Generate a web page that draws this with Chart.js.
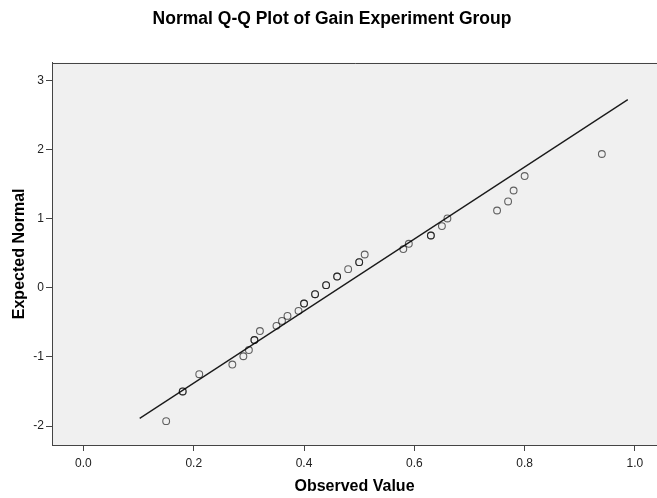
<!DOCTYPE html>
<html>
<head>
<meta charset="utf-8">
<script src="https://cdn.jsdelivr.net/npm/chart.js@4.4.1/dist/chart.umd.min.js"></script>
<style>
  html, body { margin: 0; padding: 0; background: #ffffff; }
  #wrap { width: 657px; height: 498px; }
</style>
</head>
<body>
<div id="wrap"><canvas id="c" width="657" height="498"></canvas></div>
<script>
// Observed values (ties listed once per case)
const observed = [0.15, 0.18, 0.18, 0.21, 0.27, 0.29, 0.30, 0.31, 0.31, 0.32, 0.35, 0.36, 0.37, 0.39, 0.40, 0.40, 0.42, 0.42, 0.44, 0.44, 0.46, 0.46, 0.48, 0.50, 0.50, 0.51, 0.58, 0.59, 0.63, 0.63, 0.65, 0.66, 0.75, 0.77, 0.78, 0.80, 0.94];
// Expected normal values
const expected = [-1.93, -1.50, -1.50, -1.25, -1.11, -0.99, -0.90, -0.755, -0.755, -0.625, -0.55, -0.478, -0.406, -0.333, -0.227, -0.227, -0.092, -0.092, 0.039, 0.039, 0.164, 0.164, 0.271, 0.372, 0.372, 0.483, 0.561, 0.638, 0.758, 0.758, 0.894, 1.005, 1.120, 1.251, 1.410, 1.619, 1.938];
// Reference line end points
const lineX = [0.102, 0.987];
const lineY = [-1.889, 2.725];
// Tick labels
const xTicks = [0.0, 0.2, 0.4, 0.6, 0.8, 1.0];
const yTicks = [-2, -1, 0, 1, 2, 3];

const titleText = 'Normal Q-Q Plot of Gain Experiment Group';
const xTitle = 'Observed Value';
const yTitle = 'Expected Normal';

Chart.defaults.font.family = "'Liberation Sans', Arial, sans-serif";

const pointData = observed.map((v, i) => ({ x: v, y: expected[i] }));
const lineData = lineX.map((v, i) => ({ x: v, y: lineY[i] }));

const plotBg = {
  id: 'plotBg',
  beforeDraw(chart) {
    const { ctx, chartArea: a } = chart;
    ctx.save();
    ctx.fillStyle = '#f0f0f0';
    ctx.fillRect(a.left, a.top, a.right - a.left, a.bottom - a.top);
    ctx.restore();
  },
  afterDatasetsDraw(chart) {
    const { ctx, chartArea: a } = chart;
    ctx.save();
    ctx.strokeStyle = '#444444';
    ctx.lineWidth = 1;
    ctx.beginPath();
    ctx.moveTo(Math.round(a.left) + 0.5, Math.round(a.bottom) + 0.5);
    ctx.lineTo(Math.round(a.left) + 0.5, Math.round(a.top) + 0.5);
    ctx.lineTo(a.right + 2, Math.round(a.top) + 0.5);
    ctx.stroke();
    ctx.restore();
  }
};

new Chart(document.getElementById('c'), {
  type: 'scatter',
  data: {
    datasets: [
      {
        type: 'line',
        data: lineData,
        borderColor: '#1a1a1a',
        borderWidth: 1.3,
        pointRadius: 0,
        fill: false,
        order: 2
      },
      {
        data: pointData,
        pointStyle: 'circle',
        pointRadius: 3.4,
        pointBorderWidth: 1.1,
        pointBorderColor: 'rgba(0,0,0,0.6)',
        pointBackgroundColor: 'rgba(0,0,0,0)',
        showLine: false,
        order: 1
      }
    ]
  },
  options: {
    responsive: false,
    animation: false,
    events: [],
    layout: { autoPadding: false, padding: { left: 7, right: 0, top: 0, bottom: 0 } },
    plugins: {
      legend: { display: false },
      tooltip: { enabled: false },
      title: {
        display: true,
        text: titleText,
        color: '#000000',
        font: { size: 17.5, weight: 'bold' },
        padding: { top: 8.3, bottom: 33.4 }
      }
    },
    scales: {
      x: {
        type: 'linear',
        position: 'bottom',
        min: -0.057,
        max: 1.04,
        afterBuildTicks: s => { s.ticks = xTicks.map(v => ({ value: v })); },
        afterFit: s => { s.height = 53; },
        ticks: {
          callback: v => Number(v).toFixed(1),
          color: '#222222',
          font: { size: 12 },
          padding: 5,
          maxRotation: 0,
          autoSkip: false
        },
        grid: { drawOnChartArea: false, drawTicks: true, tickLength: 6, tickColor: '#444444', tickWidth: 1 },
        border: { display: true, color: '#444444', width: 1 },
        title: {
          display: true,
          text: xTitle,
          color: '#000000',
          font: { size: 16, weight: 'bold' },
          padding: { top: 0, bottom: 2 }
        }
      },
      y: {
        type: 'linear',
        position: 'left',
        min: -2.275,
        max: 3.26,
        afterBuildTicks: s => { s.ticks = yTicks.map(v => ({ value: v })); },
        afterFit: s => { s.width = 45; },
        ticks: {
          callback: v => String(v),
          color: '#222222',
          font: { size: 12 },
          padding: 2,
          autoSkip: false
        },
        grid: { drawOnChartArea: false, drawTicks: true, tickLength: 6, tickColor: '#444444', tickWidth: 1 },
        border: { display: true, color: '#444444', width: 1 },
        title: {
          display: true,
          text: yTitle,
          color: '#000000',
          font: { size: 16, weight: 'bold' },
          padding: { top: 3, bottom: 0 }
        }
      }
    }
  },
  plugins: [plotBg]
});
</script>
</body>
</html>
